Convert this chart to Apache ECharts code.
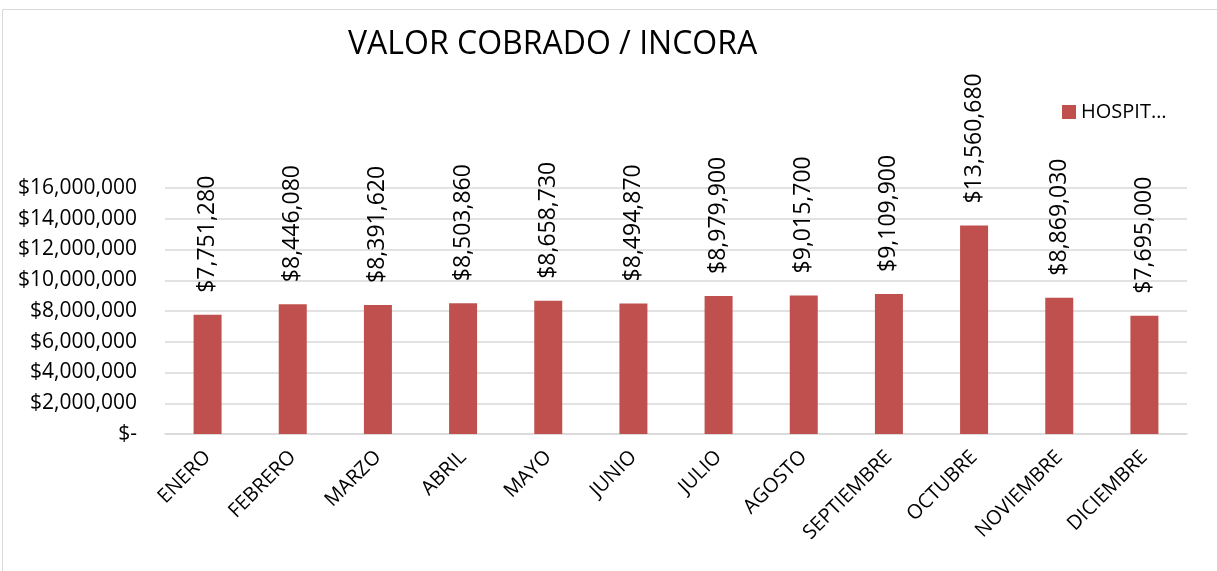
<!DOCTYPE html>
<html>
<head>
<meta charset="utf-8">
<script src="https://cdn.jsdelivr.net/npm/echarts@6/dist/echarts.min.js"></script>
<style>
  html, body { margin: 0; padding: 0; background: #fff; }
  #main { width: 1217px; height: 571px; }
</style>
</head>
<body>
<div id="main"></div>
<script>
// datos del grafico
const meses = ['ENERO', 'FEBRERO', 'MARZO', 'ABRIL', 'MAYO', 'JUNIO', 'JULIO', 'AGOSTO', 'SEPTIEMBRE', 'OCTUBRE', 'NOVIEMBRE', 'DICIEMBRE'];
const hospital = [7751280, 8446080, 8391620, 8503860, 8658730, 8494870, 8979900, 9015700, 9109900, 13560680, 8869030, 7695000];
const serieNombre = 'HOSPIT…';

const fuente = '"Open Sans", "Noto Sans", sans-serif';

function pesos(v) {
    if (v === 0) return '$-';
    return '$' + v.toLocaleString('en-US');
}

const myChart = echarts.init(document.getElementById('main'));
myChart.setOption({
    animation: false,
    textStyle: { fontFamily: fuente },
    graphic: [{
        type: 'rect',
        shape: { x: 2.5, y: 9.5, width: 1300, height: 700 },
        style: { fill: 'none', stroke: '#d9d9d9', lineWidth: 1 }
    }],
    title: {
        text: 'VALOR COBRADO / INCORA',
        left: 343,
        top: 24,
        textStyle: { fontFamily: fuente, fontSize: 32, fontWeight: 'normal', color: '#000' }
    },
    legend: {
        data: [serieNombre],
        left: 1057,
        top: 97,
        icon: 'rect',
        itemWidth: 14,
        itemHeight: 14,
        itemGap: 6,
        textStyle: { fontFamily: fuente, fontSize: 20, color: '#000' }
    },
    grid: { left: 165, right: 30, top: 188, bottom: 137, containLabel: false },
    xAxis: {
        type: 'category',
        data: meses,
        axisLine: { lineStyle: { color: '#d9d9d9', width: 1.5 } },
        axisTick: { show: false },
        axisLabel: { rotate: 45, margin: 20, fontSize: 20, color: '#000', fontFamily: fuente, interval: 0 }
    },
    yAxis: {
        type: 'value',
        min: 0,
        max: 16000000,
        interval: 2000000,
        axisLine: { show: false },
        axisTick: { show: false },
        splitLine: { lineStyle: { color: '#d9d9d9', width: 1.5 } },
        axisLabel: { fontSize: 21, color: '#000', fontFamily: fuente, margin: 28, formatter: pesos }
    },
    series: [{
        name: serieNombre,
        type: 'bar',
        data: hospital,
        barWidth: 28,
        itemStyle: { color: '#C0504D' },
        label: {
            show: true,
            position: 'top',
            rotate: 90,
            align: 'left',
            verticalAlign: 'middle',
            distance: 22,
            fontSize: 23,
            color: '#000',
            fontFamily: fuente,
            formatter: p => pesos(p.value)
        }
    }]
});
</script>
</body>
</html>
